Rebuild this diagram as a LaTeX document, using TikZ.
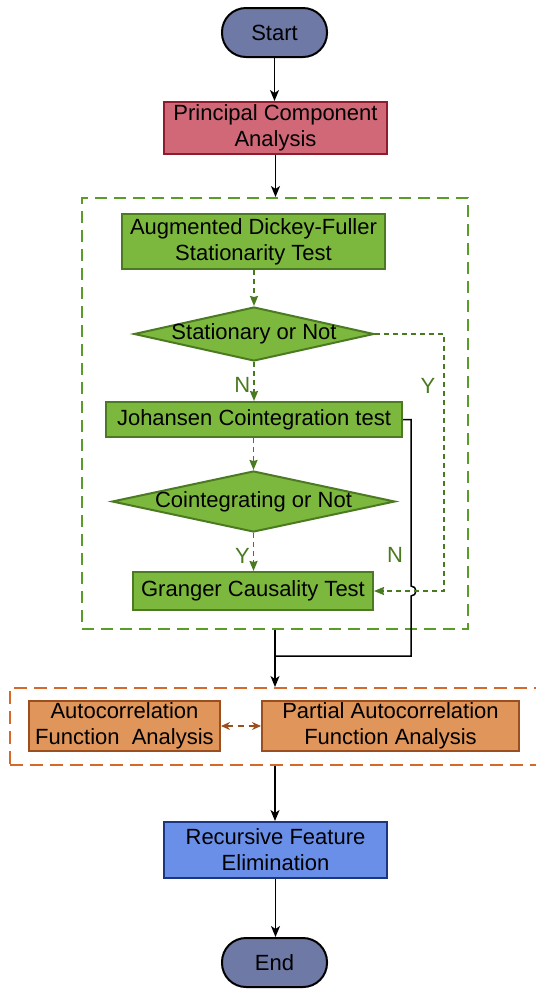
\documentclass[tikz,border=0pt]{standalone}
\usepackage{fontspec}
\setmainfont{Liberation Sans}
\usetikzlibrary{shapes.geometric,arrows.meta}
\definecolor{termfill}{HTML}{6E79A6}
\definecolor{pcafill}{HTML}{D06878}
\definecolor{pcadraw}{HTML}{8E1C2C}
\definecolor{grfill}{HTML}{7DB83E}
\definecolor{grdraw}{HTML}{4B7A22}
\definecolor{grdash}{HTML}{5A9C2A}
\definecolor{grline}{HTML}{4A7A20}
\definecolor{orfill}{HTML}{E0955A}
\definecolor{ordraw}{HTML}{9C4F1E}
\definecolor{ordash}{HTML}{D4692A}
\definecolor{rfefill}{HTML}{6A8FE8}
\definecolor{rfedraw}{HTML}{1C3580}
\begin{document}
\begin{tikzpicture}[x=1pt,y=-1pt,
  font=\fontsize{22}{26}\selectfont,
  box/.style={rectangle, draw, line width=2pt, align=center, inner sep=2pt},
  term/.style={box, draw=black, fill=termfill, rounded corners=24pt, minimum width=105pt, minimum height=49pt},
  pcabox/.style={box, draw=pcadraw, fill=pcafill},
  grbox/.style={box, draw=grdraw, fill=grfill},
  dia/.style={diamond, draw=grdraw, fill=grfill, line width=2pt, inner sep=0pt},
  orbox/.style={box, draw=ordraw, fill=orfill},
  rfebox/.style={box, draw=rfedraw, fill=rfefill},
  blk/.style={draw=black, line width=1.5pt},
  blkarr/.style={blk, -{Stealth[length=11pt,width=9pt,inset=3pt]}},
  grarr/.style={draw=grline, line width=1.6pt, dash pattern=on 5pt off 4pt, -{Stealth[length=10pt,width=8pt,inset=1pt]}},
  lbl/.style={text=grline, inner sep=0pt}
]
\useasboundingbox (0,0) rectangle (536,989);

% group frames
\node[draw=grdash, line width=2pt, dash pattern=on 12pt off 7pt, minimum width=386pt, minimum height=431pt, inner sep=0pt] (gbox) at (275,413.5) {};
\node[draw=ordash, line width=2pt, dash pattern=on 13pt off 7pt, minimum width=530pt, minimum height=77pt, inner sep=0pt] (obox) at (275,726.5) {};

% nodes
\node[term] (start) at (274.5,32.5) {Start};
\node[pcabox, minimum width=223pt, minimum height=52pt] (pca) at (275.5,128) {Principal Component\\Analysis};
\node[grbox, minimum width=263pt, minimum height=55pt] (adf) at (253.5,241.5) {Augmented Dickey-Fuller\\Stationarity Test};
\node[dia, minimum width=240pt, minimum height=54pt] (d1) at (254,334) {};
\node at (d1) {Stationary or Not};
\node[grbox, minimum width=296pt, minimum height=35pt] (joh) at (254,419.5) {Johansen Cointegration test};
\node[dia, minimum width=283pt, minimum height=61pt] (d2) at (253.5,501.5) {};
\node at (d2) {Cointegrating or Not};
\node[grbox, minimum width=240pt, minimum height=38pt] (gr) at (253,591) {Granger Causality Test};
\node[orbox, minimum width=191pt, minimum height=50pt] (acf) at (124.5,726) {Autocorrelation\\Function\ \ Analysis};
\node[orbox, minimum width=257pt, minimum height=50pt] (pacf) at (390.5,726) {Partial Autocorrelation\\Function Analysis};
\node[rfebox, minimum width=223pt, minimum height=56pt] (rfe) at (275.5,850) {Recursive Feature\\Elimination};
\node[term] (end) at (274.5,962.5) {End};

% helper coordinates
\coordinate (yr1) at (444,334);
\coordinate (yr2) at (444,591);
\coordinate (jr1) at (411,419.5);
\coordinate (jr2) at (411,586);
\coordinate (jr3) at (411,656);
\coordinate (jm) at (275,656);

% black connectors
\draw[blkarr] (start.south) -- (start.south |- pca.north);
\draw[blkarr] (pca.south) -- (pca.south |- gbox.north);
\draw[blkarr] (gbox.south) -- (obox.north);
\draw[blk] (joh.east) -- (jr1) -- (jr2) arc[start angle=90, end angle=-90, radius=5pt] -- (jr3) -- (jm);
\draw[blkarr] (obox.south) -- (obox.south |- rfe.north);
\draw[blkarr] (rfe.south) -- (rfe.south |- end.north);

% green dashed connectors
\draw[grarr] (adf.south -| d1.north) -- (d1.north);
\draw[grarr] (d1.south) -- (d1.south |- joh.north) node[lbl, pos=0.6, left=3pt] {N};
\draw[grarr] (d1.east) -- (yr1) -- (yr2) -- (gr.east);
\draw[grarr] (joh.south -| d2.north) -- (d2.north);
\draw[grarr] (d2.south) -- (d2.south |- gr.north) node[lbl, pos=0.6, left=3pt] {Y};
\node[lbl] (ly) at (428,386) {Y};
\node[lbl] (ln) at (395,555) {N};

% orange double arrow
\draw[draw=ordraw, line width=1.5pt, dash pattern=on 6pt off 5pt, {Stealth[length=9pt,width=8pt]}-{Stealth[length=9pt,width=8pt]}] (acf.east) -- (pacf.west);
\end{tikzpicture}
\end{document}
